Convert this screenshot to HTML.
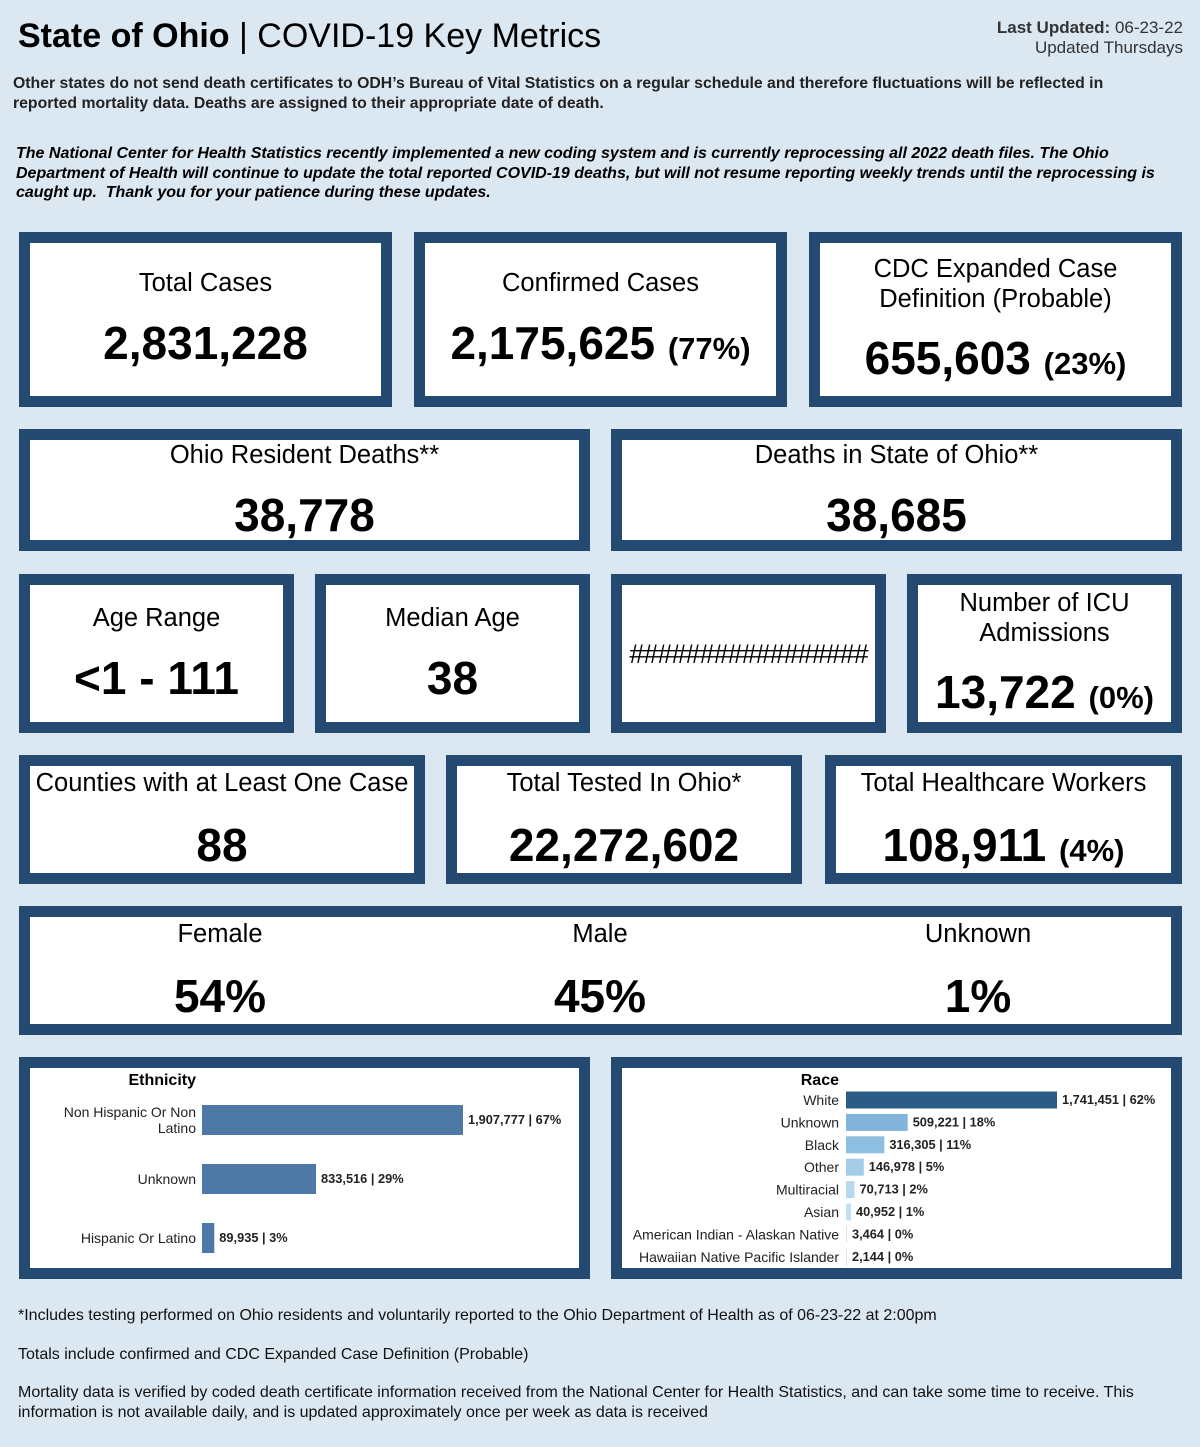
<!DOCTYPE html>
<html><head><meta charset="utf-8"><style>
*{box-sizing:border-box;margin:0;padding:0}
body{width:1200px;height:1447px;background:#dbe7f1;font-family:"Liberation Sans",Arial,sans-serif;position:relative;overflow:hidden;color:#000}
.a{position:absolute}
.box{position:absolute;background:#fff;border:11px solid #244a72;text-align:center}
.lbl{position:absolute;left:0;right:0;font-size:25.5px;white-space:nowrap}
.val{position:absolute;left:0;right:0;font-size:46px;font-weight:bold;white-space:nowrap}
.pct{font-size:31px}
.note{font-size:15.8px;font-weight:bold;line-height:19.5px;color:#222;white-space:nowrap}
.foot{font-size:16px;color:#111;line-height:20px;white-space:nowrap}
</style></head><body>
<div class="a" style="left:18px;top:17px;font-size:34px;white-space:nowrap"><b>State of Ohio</b> | COVID-19 Key Metrics</div>
<div class="a" style="right:17px;top:18px;font-size:17px;text-align:right;line-height:20px;color:#333"><b>Last Updated:</b> 06-23-22<br>Updated Thursdays</div>
<div class="a note" style="left:13px;top:74px">Other states do not send death certificates to ODH’s Bureau of Vital Statistics on a regular schedule and therefore fluctuations will be reflected in<br>reported mortality data. Deaths are assigned to their appropriate date of death.</div>
<div class="a note" style="left:16px;top:144px;font-style:italic;color:#000;font-size:16px">The National Center for Health Statistics recently implemented a new coding system and is currently reprocessing all 2022 death files. The Ohio<br>Department of Health will continue to update the total reported COVID-19 deaths, but will not resume reporting weekly trends until the reprocessing is<br>caught up.&nbsp; Thank you for your patience during these updates.</div>

<div class="box" style="left:19px;top:232px;width:373px;height:175px"><div class="lbl" style="top:26px">Total Cases</div><div class="val" style="top:73px">2,831,228</div></div>
<div class="box" style="left:414px;top:232px;width:373px;height:175px"><div class="lbl" style="top:26px">Confirmed Cases</div><div class="val" style="top:73px">2,175,625 <span class="pct">(77%)</span></div></div>
<div class="box" style="left:809px;top:232px;width:373px;height:175px"><div class="lbl" style="top:11px;line-height:30px">CDC Expanded Case<br>Definition (Probable)</div><div class="val" style="top:88px">655,603 <span class="pct">(23%)</span></div></div>

<div class="box" style="left:19px;top:429px;width:571px;height:122px"><div class="lbl" style="top:1px">Ohio Resident Deaths**</div><div class="val" style="top:48px">38,778</div></div>
<div class="box" style="left:611px;top:429px;width:571px;height:122px"><div class="lbl" style="top:1px">Deaths in State of Ohio**</div><div class="val" style="top:48px">38,685</div></div>

<div class="box" style="left:19px;top:574px;width:275px;height:159px"><div class="lbl" style="top:19px">Age Range</div><div class="val" style="top:66px">&lt;1 - 111</div></div>
<div class="box" style="left:315px;top:574px;width:275px;height:159px"><div class="lbl" style="top:19px">Median Age</div><div class="val" style="top:66px">38</div></div>
<div class="box" style="left:611px;top:574px;width:275px;height:159px"><div class="lbl" style="top:54px;font-size:27px;letter-spacing:-1px">#################</div></div>
<div class="box" style="left:907px;top:574px;width:275px;height:159px"><div class="lbl" style="top:3px;line-height:30px">Number of ICU<br>Admissions</div><div class="val" style="top:80px">13,722 <span class="pct">(0%)</span></div></div>

<div class="box" style="left:19px;top:755px;width:406px;height:129px"><div class="lbl" style="top:3px">Counties with at Least One Case</div><div class="val" style="top:52px">88</div></div>
<div class="box" style="left:446px;top:755px;width:356px;height:129px"><div class="lbl" style="top:3px">Total Tested In Ohio*</div><div class="val" style="top:52px">22,272,602</div></div>
<div class="box" style="left:825px;top:755px;width:357px;height:129px"><div class="lbl" style="top:3px">Total Healthcare Workers</div><div class="val" style="top:52px">108,911 <span class="pct">(4%)</span></div></div>

<div class="box" style="left:19px;top:906px;width:1163px;height:129px">
<div class="a" style="left:0;width:380px;top:0"><div class="lbl" style="top:3px">Female</div><div class="val" style="top:52px">54%</div></div>
<div class="a" style="left:380px;width:380px;top:0"><div class="lbl" style="top:3px">Male</div><div class="val" style="top:52px">45%</div></div>
<div class="a" style="left:758px;width:380px;top:0"><div class="lbl" style="top:3px">Unknown</div><div class="val" style="top:52px">1%</div></div>
</div>

<div class="box" style="left:19px;top:1057px;width:571px;height:222px"></div>
<div class="box" style="left:611px;top:1057px;width:571px;height:222px"></div>
<svg class="a" style="left:0;top:0" width="1200" height="1447" id="svg"></svg>

<div class="a foot" style="left:18px;top:1306px">*Includes testing performed on Ohio residents and voluntarily reported to the Ohio Department of Health as of 06-23-22 at 2:00pm</div>
<div class="a foot" style="left:18px;top:1345px">Totals include confirmed and CDC Expanded Case Definition (Probable)</div>
<div class="a foot" style="left:18px;top:1383px">Mortality data is verified by coded death certificate information received from the National Center for Health Statistics, and can take some time to receive. This<br>information is not available daily, and is updated approximately once per week as data is received</div>
<script>
const ethCats=[["Non Hispanic Or Non","Latino"],["Unknown"],["Hispanic Or Latino"]];
const ethVals=[1907777,833516,89935];
const ethLabels=["1,907,777 | 67%","833,516 | 29%","89,935 | 3%"];
const raceCats=["White","Unknown","Black","Other","Multiracial","Asian","American Indian - Alaskan Native","Hawaiian Native Pacific Islander"];
const raceVals=[1741451,509221,316305,146978,70713,40952,3464,2144];
const raceLabels=["1,741,451 | 62%","509,221 | 18%","316,305 | 11%","146,978 | 5%","70,713 | 2%","40,952 | 1%","3,464 | 0%","2,144 | 0%"];
const raceColors=["#2b5a84","#82b3d8","#8fbfe0","#a5cde9","#b6d9f0","#c2e0f3","#cfe6f5","#cfe6f5"];
const NS="http://www.w3.org/2000/svg";
const svg=document.getElementById('svg');
function mk(t,a,txt){const e=document.createElementNS(NS,t);for(const k in a)e.setAttribute(k,a[k]);if(txt!==undefined)e.textContent=txt;svg.appendChild(e);return e;}
// Ethnicity
const ex0=202,eMax=1907777,eW=261;
const ex=v=>ex0+v/eMax*eW;
const ey=i=>1120+i*59;
let t=mk('text',{x:196,y:1085,'text-anchor':'end','font-size':16,'font-weight':'bold','font-family':'Liberation Sans'},'Ethnicity');

ethVals.forEach((v,i)=>{
 const r=mk('rect',{x:ex0,y:ey(i)-15,width:ex(v)-ex0,height:30,fill:'#4e78a6'});
 
 
 const lines=ethCats[i];
 lines.forEach((ln,j)=>{const tt=mk('text',{x:196,y:ey(i)+5+(j-(lines.length-1)/2)*16,'text-anchor':'end','font-size':14,'font-family':'Liberation Sans',fill:'#222'},ln);
 
 });
 const vl=mk('text',{x:ex(v)+5,y:ey(i)+4,'font-size':12.8,'font-weight':'bold','font-family':'Liberation Sans',fill:'#222'},ethLabels[i]);
 
 
});
// Race
const rx0=846,rMax=1741451,rW=211;
const rx=v=>rx0+v/rMax*rW;
const ry=i=>1100+i*22.4;
t=mk('text',{x:839,y:1085,'text-anchor':'end','font-size':16,'font-weight':'bold','font-family':'Liberation Sans'},'Race');

raceVals.forEach((v,i)=>{
 const w=Math.max(rx(v)-rx0,1);
 const r=mk('rect',{x:rx0,y:ry(i)-8.5,width:w,height:17,fill:raceColors[i]});
 
 
 const tt=mk('text',{x:839,y:ry(i)+5,'text-anchor':'end','font-size':14,'font-family':'Liberation Sans',fill:'#222'},raceCats[i]);
 
 
 const vl=mk('text',{x:rx0+w+5,y:ry(i)+4,'font-size':12.8,'font-weight':'bold','font-family':'Liberation Sans',fill:'#222'},raceLabels[i]);
 
 
});
</script>
</body></html>
